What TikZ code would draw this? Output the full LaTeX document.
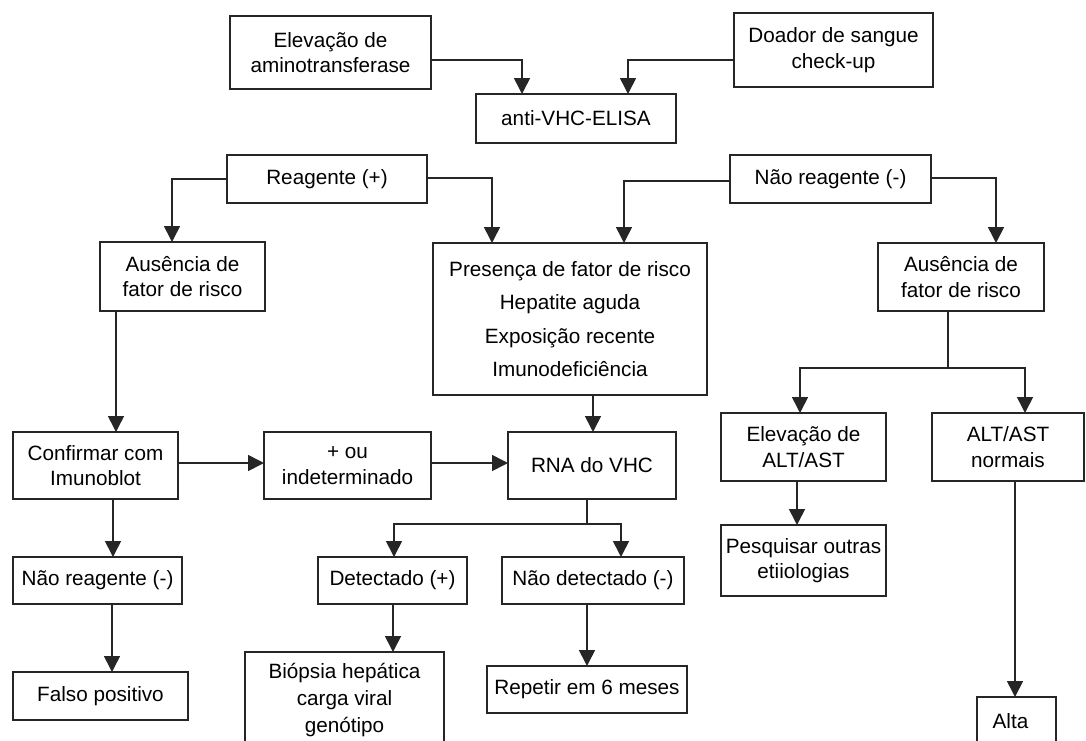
\documentclass[tikz,border=0pt]{standalone}
\usepackage{fontspec}
\setmainfont{Liberation Sans}
\usetikzlibrary{arrows.meta}
\begin{document}
\begin{tikzpicture}[x=1pt,y=1pt,
  box/.style={draw=black!85, line width=1.6pt, align=center, inner sep=0pt, outer sep=0pt,
    font=\fontsize{20.7}{25.5}\selectfont},
  ln/.style={draw=black!85, line width=1.6pt},
  arr/.style={ln, -{Triangle[width=16pt,length=16pt]}}]
\fill[white] (0,0) rectangle (1086,-740);
\useasboundingbox (0,0) rectangle (1086,-740);
% top
\node[box, minimum width=201pt, minimum height=73pt] (elev) at (330.5,-52.5) {Elevação de\\aminotransferase};
\node[box, minimum width=199pt, minimum height=74pt] (doador) at (833.5,-50) {Doador de sangue\\check-up};
\node[box, minimum width=200pt, minimum height=49pt] (elisa) at (576,-118.5) {anti-VHC-ELISA};
\node[box, minimum width=200pt, minimum height=48pt] (reag) at (327,-179) {Reagente (+)};
\node[box, minimum width=201pt, minimum height=48pt] (naoreag) at (830.5,-179) {Não reagente (-)};
% second row
\node[box, minimum width=165pt, minimum height=69pt] (ausL) at (182.5,-276.5) {Ausência de\\fator de risco};
\node[box, minimum width=274pt, minimum height=152pt, font=\fontsize{20.7}{33.5}\selectfont] (pres) at (570,-319) {Presença de fator de risco\\Hepatite aguda\\Exposição recente\\Imunodeficiência};
\node[box, minimum width=166pt, minimum height=68pt] (ausR) at (961,-277) {Ausência de\\fator de risco};
% third row
\node[box, minimum width=165pt, minimum height=67pt] (conf) at (95.5,-465.5) {Confirmar com\\Imunoblot};
\node[box, minimum width=167pt, minimum height=67pt] (ind) at (347.5,-465.5) {+ ou\\indeterminado};
\node[box, minimum width=168pt, minimum height=67pt] (rna) at (592,-465.5) {RNA do VHC};
\node[box, minimum width=165pt, minimum height=68pt] (elevalt) at (803.5,-447) {Elevação de\\ALT/AST};
\node[box, minimum width=152pt, minimum height=68pt] (normais) at (1008,-447) {ALT/AST\\normais};
% fourth row
\node[box, minimum width=169pt, minimum height=47pt] (naoreag2) at (97.5,-580.5) {Não reagente (-)};
\node[box, minimum width=149pt, minimum height=47pt] (det) at (392.5,-580.5) {Detectado (+)};
\node[box, minimum width=182pt, minimum height=47pt] (naodet) at (593,-580.5) {Não detectado (-)};
\node[box, minimum width=165pt, minimum height=71pt] (pesq) at (803.5,-560.5) {Pesquisar outras\\etiiologias};
% bottom row
\node[box, minimum width=175pt, minimum height=48pt] (falso) at (100.5,-696) {Falso positivo};
\node[box, minimum width=199pt, minimum height=96pt, font=\fontsize{20.7}{27}\selectfont] (biop) at (344.5,-700) {Biópsia hepática\\carga viral\\genótipo};
\node[box, minimum width=200pt, minimum height=47pt] (rep) at (587,-689.5) {Repetir em 6 meses};
\node[box, minimum width=79pt, minimum height=48pt] (alta) at (1016.5,-721) {\hspace*{-12pt}Alta};
% connectors
\draw[arr] ([yshift=-7.5pt]elev.east) -| ([xshift=-54pt]elisa.north);
\draw[arr] ([yshift=-10pt]doador.west) -| ([xshift=52pt]elisa.north);
\draw[arr] (reag.west) -| ([xshift=-10.5pt]ausL.north);
\draw[arr] ([yshift=1pt]reag.east) -| ([xshift=-78pt]pres.north);
\draw[arr] ([yshift=-2pt]naoreag.west) -| ([xshift=54pt]pres.north);
\draw[arr] ([yshift=1pt]naoreag.east) -| ([xshift=35pt]ausR.north);
\draw[arr] ([xshift=-66.5pt]ausL.south) -- ([xshift=-66.5pt]ausL.south |- conf.north);
\draw[arr] ([xshift=23pt]pres.south) -- ([xshift=23pt]pres.south |- rna.north);
\draw[arr] ([yshift=2.5pt]conf.east) -- ([yshift=2.5pt]ind.west);
\draw[arr] ([yshift=2.5pt]ind.east) -- ([yshift=2.5pt]rna.west);
\draw[arr] ([xshift=17.5pt]conf.south) -- ([xshift=17.5pt]conf.south |- naoreag2.north);
\draw[arr] ([xshift=14.5pt]naoreag2.south) -- ([xshift=14.5pt]naoreag2.south |- falso.north);
\coordinate (rj) at (587,-524);
\draw[ln] ([xshift=-5pt]rna.south) -- (rj);
\draw[arr] (rj) -| ([xshift=1.5pt]det.north);
\draw[arr] (rj) -| ([xshift=28pt]naodet.north);
\draw[arr] ([xshift=0.5pt]det.south) -- ([xshift=0.5pt]det.south |- biop.north);
\draw[arr] ([xshift=-6pt]naodet.south) -- ([xshift=-6pt]naodet.south |- rep.north);
\coordinate (aj) at (948,-368);
\draw[ln] ([xshift=-13pt]ausR.south) -- (aj);
\draw[arr] (aj) -| ([xshift=-3.5pt]elevalt.north);
\draw[arr] (aj) -| ([xshift=17pt]normais.north);
\draw[arr] ([xshift=-6.5pt]elevalt.south) -- ([xshift=-6.5pt]elevalt.south |- pesq.north);
\draw[arr] ([xshift=7pt]normais.south) -- ([xshift=7pt]normais.south |- alta.north);
\end{tikzpicture}
\end{document}
